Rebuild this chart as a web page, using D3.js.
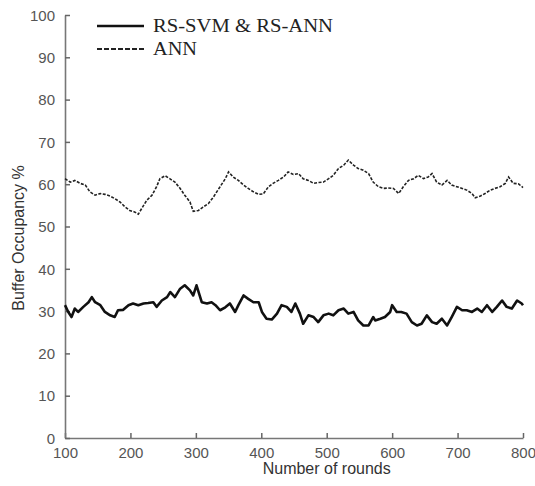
<!DOCTYPE html>
<html>
<head>
<meta charset="utf-8">
<script src="https://cdn.jsdelivr.net/npm/d3@7"></script>
<style>
  body { margin: 0; background: #fff; }
</style>
</head>
<body>
<div id="wrapper"></div>
<script>
// series (round, buffer occupancy %)
const annRounds = [100,108,115,123,131,138,146,154,161,169,176,184,192,199,207,212,217,225,233,240,245,253,260,268,276,283,291,296,304,311,319,327,337,345,350,357,365,373,380,388,396,403,411,418,426,434,441,449,457,464,472,480,487,495,503,510,518,526,533,541,548,556,564,571,579,587,594,602,610,617,625,633,640,648,655,661,668,676,684,691,699,707,714,722,727,735,742,750,757,765,773,778,785,793,800]
const annValues = [61.3,60.5,60.9,60.2,59.8,58.2,57.4,57.8,57.6,57.2,56.6,55.8,54.6,53.8,53.4,52.9,54.2,56.2,57.4,59.4,61.3,62.0,61.3,60.5,59.0,57.4,55.8,53.6,53.8,54.6,55.4,57.0,59.4,61.3,62.9,61.7,60.9,59.8,59.0,58.2,57.6,57.7,59.4,60.2,60.9,61.7,62.9,62.3,62.5,61.3,60.9,60.2,60.4,60.5,61.3,62.1,63.7,64.5,65.7,64.5,63.7,63.3,62.5,60.5,59.4,59.0,59.1,59.0,57.8,59.4,60.9,61.3,62.1,61.3,61.7,62.5,60.5,59.8,60.9,59.8,59.4,59.0,58.6,57.8,56.8,57.2,57.8,58.6,59.0,59.4,60.2,61.7,60.2,60.1,59.2]

const rsRounds = [100,105,110,115,120,128,136,141,146,154,161,169,176,181,189,197,204,212,220,227,235,240,248,256,261,268,276,283,291,296,301,309,317,324,330,337,345,352,360,365,373,380,388,396,401,408,416,424,431,439,446,452,459,464,472,480,487,495,503,510,518,526,533,541,548,556,564,571,574,582,589,597,600,607,614,622,630,638,645,653,661,668,676,684,691,699,707,714,722,730,737,745,753,760,768,775,783,791,798,800]
const rsValues = [31.4,29.8,28.6,30.6,29.8,31.0,32.1,33.3,32.1,31.4,29.8,29.0,28.6,30.2,30.3,31.4,31.8,31.4,31.8,31.9,32.1,31.0,32.5,33.3,34.5,33.3,35.3,36.1,34.9,33.7,36.1,32.1,31.8,32.1,31.4,30.2,30.9,31.8,29.8,31.4,33.7,32.9,32.1,32.1,29.8,28.2,28.0,29.4,31.4,31.0,29.8,31.8,29.4,27.0,29.0,28.6,27.4,29.0,29.4,29.0,30.2,30.6,29.4,29.8,27.8,26.6,26.6,28.6,27.8,28.2,28.6,29.8,31.4,29.8,29.8,29.4,27.4,26.6,27.0,29.0,27.4,27.0,28.2,26.6,28.6,31.0,30.2,30.2,29.8,30.6,29.8,31.4,29.8,31.0,32.5,31.0,30.6,32.5,31.8,31.4]

const xTicks = [100,200,300,400,500,600,700,800]
const yTicks = [0,10,20,30,40,50,60,70,80,90,100]
const legendLabels = ["RS-SVM & RS-ANN", "ANN"]

const dimensions = {
  width: 535,
  height: 486,
  margin: { top: 15, right: 12, bottom: 48, left: 65 }
}
dimensions.boundedWidth = dimensions.width - dimensions.margin.left - dimensions.margin.right
dimensions.boundedHeight = dimensions.height - dimensions.margin.top - dimensions.margin.bottom

const svg = d3.select("#wrapper").append("svg")
  .attr("width", dimensions.width)
  .attr("height", dimensions.height)

const bounds = svg.append("g")
  .attr("transform", `translate(${dimensions.margin.left},${dimensions.margin.top})`)

const xScale = d3.scaleLinear().domain([100, 800]).range([0, dimensions.boundedWidth])
const yScale = d3.scaleLinear().domain([0, 100]).range([dimensions.boundedHeight, 0])

const tickFont = "'Liberation Sans Narrow', 'Arial Narrow', 'Liberation Sans', sans-serif"

// axes, ticks pointing inward
const xAxis = bounds.append("g")
  .attr("transform", `translate(0,${dimensions.boundedHeight})`)
  .call(d3.axisBottom(xScale).tickValues(xTicks).tickSizeInner(-5).tickSizeOuter(0).tickPadding(9))
const yAxis = bounds.append("g")
  .call(d3.axisLeft(yScale).tickValues(yTicks).tickSizeInner(-5).tickSizeOuter(0).tickPadding(10))

;[xAxis, yAxis].forEach(ax => {
  ax.select(".domain").attr("stroke", "#777").attr("stroke-width", 1.6)
  ax.selectAll(".tick line").attr("stroke", "#666").attr("stroke-width", 1.5)
  ax.selectAll(".tick text")
    .attr("fill", "#555")
    .style("font-family", tickFont)
    .style("font-size", "15px")
})
yAxis.selectAll(".tick text").attr("dy", "0.35em")

// lines
const annLine = d3.line()
  .x((d, i) => xScale(annRounds[i]))
  .y(d => yScale(d))
const rsLine = d3.line()
  .x((d, i) => xScale(rsRounds[i]))
  .y(d => yScale(d))

bounds.append("path")
  .datum(annValues)
  .attr("d", annLine)
  .attr("fill", "none")
  .attr("stroke", "#222")
  .attr("stroke-width", 1.6)
  .attr("stroke-dasharray", "3 1.5")

bounds.append("path")
  .datum(rsValues)
  .attr("d", rsLine)
  .attr("fill", "none")
  .attr("stroke", "#111")
  .attr("stroke-width", 2.6)
  .attr("stroke-linejoin", "round")

// legend
const legend = svg.append("g")
const legendY = [26, 49]
legend.append("line")
  .attr("x1", 97).attr("x2", 144).attr("y1", legendY[0]).attr("y2", legendY[0])
  .attr("stroke", "#111").attr("stroke-width", 2.6)
legend.append("line")
  .attr("x1", 97).attr("x2", 144).attr("y1", legendY[1]).attr("y2", legendY[1])
  .attr("stroke", "#222").attr("stroke-width", 2.2).attr("stroke-dasharray", "5 2")
legend.selectAll("text.lg")
  .data(legendLabels)
  .join("text")
  .attr("class", "lg")
  .attr("x", 153)
  .attr("y", (d, i) => legendY[i] + 6)
  .attr("textLength", (d, i) => i === 0 ? 180 : 44)
  .attr("lengthAdjust", "spacingAndGlyphs")
  .style("font-family", "'Liberation Serif', 'Times New Roman', serif")
  .style("font-size", "18px")
  .attr("fill", "#222")
  .text(d => d)

// axis titles
svg.append("text")
  .attr("x", dimensions.margin.left + xScale(500))
  .attr("y", 474)
  .attr("text-anchor", "middle")
  .style("font-family", "'Liberation Sans', Arial, sans-serif")
  .style("font-size", "16px")
  .attr("fill", "#333")
  .text("Number of rounds")

svg.append("text")
  .attr("transform", `translate(24,238) rotate(-90)`)
  .attr("text-anchor", "middle")
  .style("font-family", "'Liberation Sans', Arial, sans-serif")
  .style("font-size", "16px")
  .attr("fill", "#333")
  .text("Buffer Occupancy %")
</script>
</body>
</html>
